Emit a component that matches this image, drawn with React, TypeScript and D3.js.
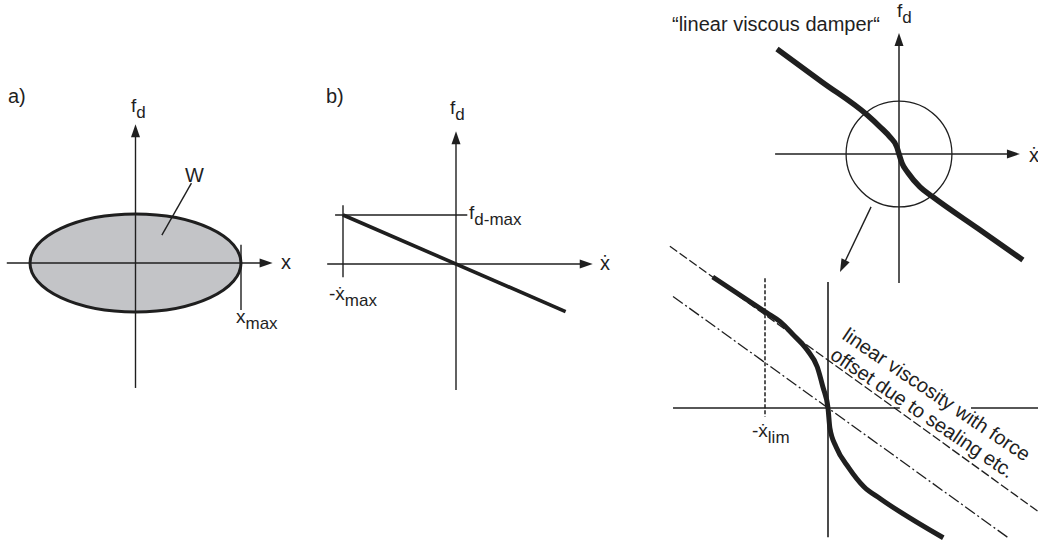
import React from "react";
import * as d3 from "d3";

const FONT = "'Liberation Sans', Arial, Helvetica, sans-serif";
const INK = "#1f1f1f";
const LOOP_FILL = "#c3c4c7";

// (a) hysteresis loop of a viscous damper: displacement amplitude and peak force
const loopX = [-1, 1];
const loopF = [-1, 1];
// leader from the "W" label into the loop area
const leaderX = [0.53, 0.25];
const leaderF = [1.63, 0.57];

// (b) linear damper: force against velocity
const linearV = [-1, 0.97];
const linearF = [1, -0.97];

// (c) overview characteristic (velocity, force)
const overviewV = [-5.81, -3.67, -1.52, -0.9, -0.43, -0.1, 0, 0.14, 0.43, 1.0, 1.62, 3.76, 5.9];
const overviewF = [5.0, 3.43, 1.86, 1.29, 0.81, 0.33, 0, -0.43, -0.9, -1.57, -2.05, -3.55, -5.05];

// (c) detail of the characteristic near zero velocity (velocity, force)
const detailV = [-1.83, -0.97, -0.76, -0.56, -0.33, -0.17, -0.08, 0, 0.03, 0.13, 0.33, 0.57, 0.83, 1.83];
const detailF = [2.08, 1.51, 1.37, 1.17, 0.92, 0.65, 0.33, 0, -0.32, -0.62, -0.95, -1.25, -1.44, -2.06];
const viscSlope = -0.72;
const sealOffset = 0.76;
const vLim = -1;
const zoomRadius = 2.52;

type Pt = [number, number];

function arrowHead(tx: number, ty: number, angle: number, len = 13, half = 4.5) {
  const c = Math.cos(angle), s = Math.sin(angle);
  const bx = tx - len * c, by = ty - len * s;
  const p = [
    [tx, ty],
    [bx - half * s, by + half * c],
    [bx + half * s, by - half * c],
  ];
  return "M" + p.map((q) => q.join(",")).join("L") + "Z";
}

function Sub({ x, y, main, sub, size = 19, subSize = 17, dy = 6 }: any) {
  return (
    <text x={x} y={y} fontSize={size} fill={INK}>
      {main}
      <tspan fontSize={subSize} dy={dy}>{sub}</tspan>
    </text>
  );
}

export default function App() {
  // ---- panel (a)
  const xA = d3.scaleLinear().domain([-1, 1]).range([30, 241]);
  const yA = d3.scaleLinear().domain([-1, 1]).range([312, 214]);
  const axAx0 = xA(-1.22), axAx1 = xA(1.3);
  const axAy0 = yA(2.83), axAy1 = yA(-2.55);

  // ---- panel (b)
  const xB = d3.scaleLinear().domain([-1, 1]).range([343, 569]);
  const yB = d3.scaleLinear().domain([-1, 1]).range([313, 215]);
  const bLine = d3.line<number>().x((_, i) => xB(linearV[i])).y((_, i) => yB(linearF[i]));

  // ---- panel (c) overview
  const kTop = 21;
  const xT = d3.scaleLinear().domain([0, 1]).range([899, 899 + kTop]);
  const yT = d3.scaleLinear().domain([0, 1]).range([154, 154 - kTop]);
  const topPts: Pt[] = overviewV.map((v, i) => [v, overviewF[i]] as Pt);
  const curveTop = d3
    .line<Pt>()
    .x((d) => xT(d[0]))
    .y((d) => yT(d[1]))
    .curve(d3.curveMonotoneX);

  // ---- panel (c) detail
  const kBot = 63;
  const xD = d3.scaleLinear().domain([0, 1]).range([828, 828 + kBot]);
  const yD = d3.scaleLinear().domain([0, 1]).range([408, 408 - kBot]);
  const botPts: Pt[] = detailV.map((v, i) => [v, detailF[i]] as Pt);
  const curveBot = d3
    .line<Pt>()
    .x((d) => xD(d[0]))
    .y((d) => yD(d[1]))
    .curve(d3.curveMonotoneX);

  const offV = [-2.51, 3.35];
  const offLine = offV.map((v) => [xD(v), yD(sealOffset + viscSlope * v)]);
  const pureV = [-2.46, 2.85];
  const pureLine = pureV.map((v) => [xD(v), yD(viscSlope * v)]);

  // magnifier pointer from the overview circle to the detail
  const ptrFrom: Pt = [xT(-1.33), yT(-2.52)];
  const ptrTo: Pt = [xT(-2.81), yT(-5.62)];
  const ptrAng = Math.atan2(ptrTo[1] - ptrFrom[1], ptrTo[0] - ptrFrom[0]);

  const textAngle = 34;
  const txtOrigin: Pt = [829, 358];

  return (
    <svg
      width={1038}
      height={540}
      style={{ position: "fixed", left: 0, top: 0, background: "#fff" }}
      fontFamily={FONT}
    >
      {/* (a) */}
      <text x={8} y={103} fontSize={20} fill={INK}>a)</text>
      <ellipse
        cx={xA(0)}
        cy={yA(0)}
        rx={xA(loopX[1]) - xA(0)}
        ry={yA(0) - yA(loopF[1])}
        fill={LOOP_FILL}
        stroke={INK}
        strokeWidth={3}
      />
      <line x1={axAx0} y1={yA(0)} x2={axAx1 - 10} y2={yA(0)} stroke={INK} strokeWidth={1.4} />
      <path d={arrowHead(axAx1, yA(0), 0)} fill={INK} />
      <line x1={xA(0)} y1={axAy1} x2={xA(0)} y2={axAy0 + 10} stroke={INK} strokeWidth={1.4} />
      <path d={arrowHead(xA(0), axAy0, -Math.PI / 2)} fill={INK} />
      <line x1={xA(loopX[1])} y1={yA(0.37)} x2={xA(loopX[1])} y2={yA(-0.96)} stroke={INK} strokeWidth={1.4} />
      <line
        x1={xA(leaderX[0])}
        y1={yA(leaderF[0])}
        x2={xA(leaderX[1])}
        y2={yA(leaderF[1])}
        stroke={INK}
        strokeWidth={1.4}
      />
      <text x={185} y={182} fontSize={20} fill={INK}>W</text>
      <text x={281} y={269} fontSize={20} fill={INK}>x</text>
      <Sub x={131} y={112} main="f" sub="d" />
      <Sub x={236} y={323} main="x" sub="max" />

      {/* (b) */}
      <text x={326} y={103} fontSize={20} fill={INK}>b)</text>
      <line x1={xB(-1.14)} y1={yB(0)} x2={xB(1.21) - 10} y2={yB(0)} stroke={INK} strokeWidth={1.4} />
      <path d={arrowHead(xB(1.21), yB(0), 0)} fill={INK} />
      <line x1={xB(0)} y1={yB(-2.57)} x2={xB(0)} y2={yB(2.71) + 10} stroke={INK} strokeWidth={1.4} />
      <path d={arrowHead(xB(0), yB(2.71), -Math.PI / 2)} fill={INK} />
      <line x1={xB(-1.07)} y1={yB(1)} x2={xB(0.1)} y2={yB(1)} stroke={INK} strokeWidth={1.4} />
      <line x1={xB(-1)} y1={yB(1.2)} x2={xB(-1)} y2={yB(-0.27)} stroke={INK} strokeWidth={1.4} />
      <path d={bLine(linearV) || ""} fill="none" stroke={INK} strokeWidth={3.6} />
      <Sub x={450} y={114} main="f" sub="d" />
      <Sub x={469} y={219} main="f" sub="d-max" />
      <text x={600} y={270} fontSize={20} fill={INK}>ẋ</text>
      <Sub x={329} y={300} main="-ẋ" sub="max" />

      {/* (c) overview */}
      <text x={672} y={31} fontSize={20} fill={INK}>“linear viscous damper“</text>
      <line x1={xT(-5.9)} y1={yT(0)} x2={xT(5.76) - 10} y2={yT(0)} stroke={INK} strokeWidth={1.5} />
      <path d={arrowHead(xT(5.76), yT(0), 0)} fill={INK} />
      <line x1={xT(0)} y1={yT(-6.14)} x2={xT(0)} y2={yT(5.76) + 10} stroke={INK} strokeWidth={1.5} />
      <path d={arrowHead(xT(0), yT(5.76), -Math.PI / 2)} fill={INK} />
      <circle cx={xT(0)} cy={yT(0)} r={xT(zoomRadius) - xT(0)} fill="none" stroke={INK} strokeWidth={1.3} />
      <path d={curveTop(topPts) || ""} fill="none" stroke={INK} strokeWidth={5.5} />
      <Sub x={897} y={17} main="f" sub="d" />
      <text x={1029} y={162} fontSize={20} fill={INK}>ẋ</text>
      <line
        x1={ptrFrom[0]}
        y1={ptrFrom[1]}
        x2={ptrTo[0] - 10 * Math.cos(ptrAng)}
        y2={ptrTo[1] - 10 * Math.sin(ptrAng)}
        stroke={INK}
        strokeWidth={1.4}
      />
      <path d={arrowHead(ptrTo[0], ptrTo[1], ptrAng)} fill={INK} />

      {/* (c) detail */}
      <line x1={xD(-2.46)} y1={yD(0)} x2={xD(1.14)} y2={yD(0)} stroke={INK} strokeWidth={1.6} />
      <line x1={xD(2.27)} y1={yD(0)} x2={xD(3.4)} y2={yD(0)} stroke={INK} strokeWidth={1.6} />
      <line x1={xD(0)} y1={yD(2.0)} x2={xD(0)} y2={yD(-2.05)} stroke={INK} strokeWidth={1.6} />
      <line
        x1={xD(vLim)}
        y1={yD(2.06)}
        x2={xD(vLim)}
        y2={yD(-0.14)}
        stroke={INK}
        strokeWidth={1.5}
        strokeDasharray="4 2"
      />
      <line
        x1={offLine[0][0]}
        y1={offLine[0][1]}
        x2={offLine[1][0]}
        y2={offLine[1][1]}
        stroke={INK}
        strokeWidth={1.3}
        strokeDasharray="9 3"
      />
      <line
        x1={pureLine[0][0]}
        y1={pureLine[0][1]}
        x2={pureLine[1][0]}
        y2={pureLine[1][1]}
        stroke={INK}
        strokeWidth={1.3}
        strokeDasharray="12 3 2 3"
      />
      <path d={curveBot(botPts) || ""} fill="none" stroke={INK} strokeWidth={5} />
      <Sub x={752} y={437} main="-ẋ" sub="lim" />
      <g transform={`translate(${txtOrigin[0]},${txtOrigin[1]}) rotate(${textAngle})`} fontSize={20} fill={INK}>
        <text x={-1} y={-23}>linear viscosity with force</text>
        <text x={0} y={0}>offset due to sealing etc.</text>
      </g>
    </svg>
  );
}
